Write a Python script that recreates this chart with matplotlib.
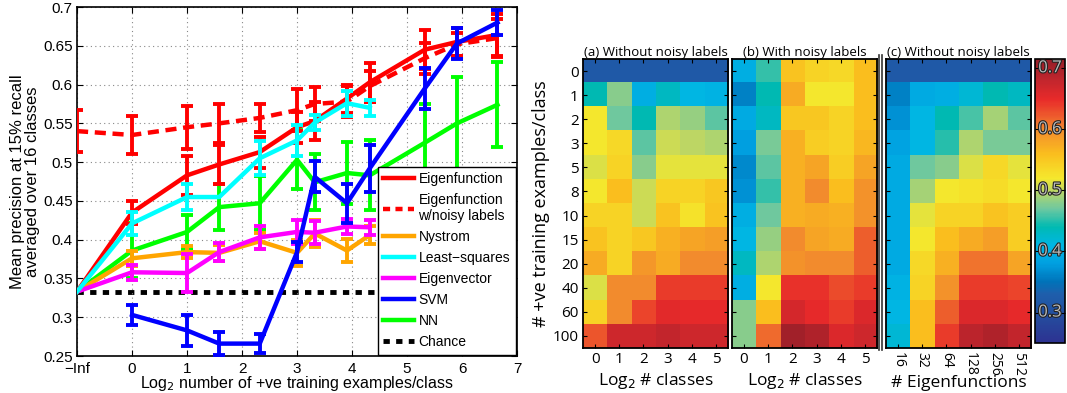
import numpy as np
import matplotlib
matplotlib.use("Agg")
import matplotlib.pyplot as plt
from matplotlib.lines import Line2D
from matplotlib.colors import LinearSegmentedColormap
import matplotlib.patheffects as pe

# ---- left plot data ----
x_labels = ['\u2212Inf', '0', '1', '2', '3', '4', '5', '6', '7']
n_train = [0, 1, 2, 3, 5, 8, 10, 15, 20, 40, 60, 100]

eig_y = [0.333, 0.435, 0.483, 0.497, 0.513, 0.545, 0.553, 0.582, 0.603, 0.645, 0.655, 0.664]
eig_e = [0, 0.015, 0.025, 0.025, 0.02, 0.02, 0.025, 0.018, 0.025, 0.025, 0.018, 0.027]
eign_y = [0.54, 0.535, 0.545, 0.55, 0.557, 0.567, 0.575, 0.578, 0.598, 0.634, 0.652, 0.66]
eign_e = [0.027, 0.024, 0.028, 0.025, 0.018, 0.027, 0.022, 0.02, 0.02, 0.02, 0.015, 0.025]
nys_y = [0.333, 0.376, 0.384, 0.383, 0.398, 0.383, 0.408, 0.386, 0.406]
nys_e = [0, 0.01, 0.008, 0.01, 0.01, 0.017, 0.017, 0.015, 0.012]
ls_y = [0.333, 0.421, 0.455, 0.455, 0.505, 0.528, 0.551, 0.576, 0.57]
ls_e = [0, 0.015, 0.017, 0, 0.022, 0.02, 0.01, 0.016, 0.01]
evec_y = [0.333, 0.358, 0.357, 0.384, 0.403, 0.41, 0.409, 0.417, 0.416]
evec_e = [0, 0.01, 0.025, 0.012, 0.015, 0.015, 0.015, 0.01, 0.01]
svm_y = [0.303, 0.283, 0.266, 0.266, 0.384, 0.481, 0.447, 0.492, 0.595, 0.653, 0.68]
svm_e = [0.013, 0.02, 0.015, 0.012, 0.013, 0.02, 0.025, 0.03, 0.026, 0.02, 0.016]
nn_y = [0.333, 0.386, 0.41, 0.442, 0.447, 0.503, 0.474, 0.486, 0.483, 0.525, 0.55, 0.574]
nn_e = [0, 0.035, 0.022, 0.03, 0.035, 0.038, 0.036, 0.04, 0.045, 0.05, 0.06, 0.055]
chance = 0.333

# ---- heatmap data (rows: # +ve training examples, cols) ----
row_labels = ['0', '1', '2', '3', '5', '8', '10', '15', '20', '40', '60', '100']
cls_labels = ['0', '1', '2', '3', '4', '5']
eigf_labels = ['16', '32', '64', '128', '256', '512']

heat_a = [
    [0.32, 0.32, 0.32, 0.32, 0.32, 0.32],
    [0.44, 0.48, 0.40, 0.43, 0.41, 0.405],
    [0.52, 0.47, 0.44, 0.495, 0.485, 0.465],
    [0.52, 0.535, 0.465, 0.505, 0.50, 0.495],
    [0.51, 0.54, 0.48, 0.515, 0.515, 0.515],
    [0.52, 0.56, 0.505, 0.54, 0.54, 0.55],
    [0.54, 0.54, 0.505, 0.555, 0.525, 0.555],
    [0.555, 0.54, 0.55, 0.57, 0.58, 0.585],
    [0.575, 0.54, 0.59, 0.575, 0.60, 0.60],
    [0.51, 0.60, 0.60, 0.64, 0.64, 0.64],
    [0.54, 0.60, 0.635, 0.655, 0.65, 0.65],
    [0.625, 0.67, 0.67, 0.68, 0.67, 0.67],
]
heat_b = [
    [0.40, 0.455, 0.555, 0.54, 0.535, 0.56],
    [0.36, 0.44, 0.575, 0.52, 0.52, 0.56],
    [0.395, 0.43, 0.55, 0.55, 0.54, 0.56],
    [0.38, 0.475, 0.57, 0.545, 0.54, 0.565],
    [0.365, 0.465, 0.57, 0.58, 0.545, 0.58],
    [0.37, 0.455, 0.57, 0.60, 0.56, 0.595],
    [0.40, 0.47, 0.57, 0.575, 0.57, 0.595],
    [0.41, 0.485, 0.60, 0.58, 0.575, 0.62],
    [0.43, 0.495, 0.595, 0.60, 0.60, 0.62],
    [0.40, 0.52, 0.645, 0.645, 0.63, 0.64],
    [0.48, 0.56, 0.665, 0.65, 0.64, 0.66],
    [0.48, 0.615, 0.705, 0.695, 0.66, 0.67],
]
heat_c = [
    [0.32, 0.32, 0.32, 0.32, 0.32, 0.32],
    [0.36, 0.395, 0.40, 0.42, 0.44, 0.43],
    [0.37, 0.41, 0.44, 0.46, 0.49, 0.465],
    [0.385, 0.41, 0.45, 0.495, 0.475, 0.475],
    [0.395, 0.47, 0.48, 0.51, 0.535, 0.515],
    [0.395, 0.49, 0.52, 0.525, 0.53, 0.52],
    [0.395, 0.515, 0.54, 0.54, 0.555, 0.545],
    [0.395, 0.52, 0.56, 0.575, 0.585, 0.545],
    [0.395, 0.535, 0.57, 0.61, 0.61, 0.58],
    [0.405, 0.54, 0.595, 0.64, 0.64, 0.635],
    [0.41, 0.56, 0.62, 0.66, 0.66, 0.65],
    [0.42, 0.56, 0.64, 0.685, 0.695, 0.68],
]
cbar_ticks = [0.3, 0.4, 0.5, 0.6, 0.7]

# colour scale
vmin, vmax = 0.25, 0.715
cmap_stops = [
    (0.25, (45, 50, 145)), (0.30, (35, 80, 160)), (0.33, (30, 95, 172)),
    (0.35, (0, 115, 185)), (0.38, (0, 160, 225)), (0.41, (0, 182, 228)),
    (0.44, (0, 186, 178)), (0.47, (110, 200, 160)), (0.50, (190, 215, 100)),
    (0.52, (245, 232, 45)), (0.56, (250, 190, 30)), (0.60, (243, 140, 45)),
    (0.62, (238, 95, 45)), (0.65, (232, 42, 42)), (0.68, (195, 38, 45)),
    (0.715, (150, 30, 40)),
]
cmap = LinearSegmentedColormap.from_list(
    'ref', [((v - vmin) / (vmax - vmin), tuple(c / 255 for c in rgb)) for v, rgb in cmap_stops])

# x positions: -Inf drawn at -1, then log2 of counts
xpos = np.array([-1.0] + [np.log2(n) for n in n_train[1:]])

fig = plt.figure(figsize=(10.67, 3.93), dpi=100)
plt.rcParams['font.family'] = ['Liberation Sans', 'DejaVu Sans']

ax = fig.add_axes([0.0722, 0.0941, 0.4124, 0.888])
lw = 3.2

def series(yv, ev, color, ls='-', start=0, z=2):
    xs = xpos[start:start + len(yv)]
    yv = np.array(yv)
    ev = np.array(ev)
    ax.plot(xs, yv, color=color, lw=lw, ls=ls, zorder=z)
    m = ev > 0
    ax.errorbar(xs[m], yv[m], yerr=ev[m], fmt='none', ecolor=color,
                elinewidth=2.8, capsize=4, capthick=2.8, zorder=z)

ax.axhline(chance, color='k', lw=3.5, ls=(0, (1.3, 1.3)), zorder=1)
series(nn_y, nn_e, '#00ff00', z=2)
series(nys_y, nys_e, '#ffa500', z=3)
series(evec_y, evec_e, '#ff00ff', z=3)
series(eign_y, eign_e, '#ff0000', ls=(0, (2.5, 1.5)), z=4)
series(eig_y, eig_e, '#ff0000', z=4)
series(ls_y, ls_e, '#00ffff', z=5)
series(svm_y, svm_e, '#0000ff', start=1, z=6)

handles = [
    Line2D([], [], color='#ff0000', lw=lw),
    Line2D([], [], color='#ff0000', lw=lw, ls=(0, (1.6, 1.2))),
    Line2D([], [], color='#ffa500', lw=lw),
    Line2D([], [], color='#00ffff', lw=lw),
    Line2D([], [], color='#ff00ff', lw=lw),
    Line2D([], [], color='#0000ff', lw=lw),
    Line2D([], [], color='#00ff00', lw=lw),
    Line2D([], [], color='k', lw=3.5, ls=(0, (1.3, 1.3))),
]
names = ['Eigenfunction', 'Eigenfunction\nw/noisy labels', 'Nystrom', 'Least\u2212squares',
         'Eigenvector', 'SVM', 'NN', 'Chance']
leg = ax.legend(handles, names, loc='lower right', fontsize=10, frameon=True, framealpha=1,
                fancybox=False, edgecolor='k', borderaxespad=0.1, handlelength=2.2,
                labelspacing=0.5, borderpad=0.4, handletextpad=0.35)
leg.get_frame().set_linewidth(1.0)
leg.set_zorder(10)

ax.set_xlim(-1, 7)
ax.set_ylim(0.25, 0.7)
ax.set_xticks(range(-1, 8))
ax.set_xticklabels(x_labels, fontsize=11)
ax.set_yticks(np.arange(0.25, 0.701, 0.05))
ax.set_yticklabels(['0.25', '0.3', '0.35', '0.4', '0.45', '0.5', '0.55', '0.6', '0.65', '0.7'], fontsize=11)
ax.grid(True, color='#888888', ls=(0, (1, 3)), lw=0.8)
ax.tick_params(direction='in', top=True, right=True, length=4)
ax.tick_params(axis='x', pad=4)
ax.tick_params(axis='y', pad=3)
for s in ax.spines.values():
    s.set_linewidth(1.2)
ax.set_xlabel('Log$_2$ number of +ve training examples/class', fontsize=11.5, labelpad=-1)
ax.set_ylabel('Mean precision at 15% recall\naveraged over 16 classes', fontsize=12, labelpad=2,
              linespacing=1.0)

# ---- heatmaps ----
hfont = ['Open Sans', 'DejaVu Sans']
panels = [
    (0.5464, heat_a, '(a) Without noisy labels', cls_labels, 'Log$_2$ # classes', 0),
    (0.6860, heat_b, '(b) With noisy labels', cls_labels, 'Log$_2$ # classes', 0),
    (0.8304, heat_c, '(c) Without noisy labels', eigf_labels, '# Eigenfunctions', -90),
]
for i, (left, data, title, xl, xlab, rot) in enumerate(panels):
    hax = fig.add_axes([left, 0.1145, 0.1359, 0.7354])
    im = hax.imshow(np.array(data), cmap=cmap, vmin=vmin, vmax=vmax, aspect='auto',
                    interpolation='nearest')
    hax.set_title(title, fontsize=9.5, family=hfont, pad=2)
    hax.set_xticks(range(6))
    hax.set_yticks(range(12))
    if i == 0:
        hax.set_yticklabels(row_labels, fontsize=11, family=hfont)
        hax.set_ylabel('# +ve training examples/class', fontsize=13, family=hfont, labelpad=2)
    else:
        hax.set_yticklabels([])
    if rot:
        hax.set_xticklabels(xl, fontsize=10, family=hfont, rotation=rot, va='top')
        hax.set_xlabel(xlab, fontsize=12.5, family=hfont)
        hax.xaxis.set_label_coords(0.5, -0.093)
    else:
        hax.set_xticklabels(xl, fontsize=11, family=hfont)
        hax.set_xlabel(xlab, fontsize=12.5, family=hfont)
        hax.xaxis.set_label_coords(0.5, -0.078)
    hax.tick_params(direction='in', top=True, right=True, length=3, width=0.8, pad=3)
    for s in hax.spines.values():
        s.set_linewidth(1.3)

# double separator between (b) and (c)
for xx in (0.8238, 0.8262):
    fig.add_artist(Line2D([xx, xx], [0.11, 0.86], color='#333333', lw=1.2))

cax = fig.add_axes([0.970, 0.127, 0.0281, 0.7226])
cb = fig.colorbar(im, cax=cax)
cb.set_ticks(cbar_ticks)
cax.tick_params(direction='in', left=True, right=True, length=3, labelright=False)
cb.outline.set_linewidth(1.2)
for t in cbar_ticks:
    cax.text(0.5, t, '%.1f' % t, ha='center', va='center', fontsize=12, family=hfont,
             color='#bbbbbb', transform=cax.get_yaxis_transform(),
             path_effects=[pe.Stroke(linewidth=1.6, foreground='#222222'), pe.Normal()])

fig.savefig('out.png', dpi=100)
